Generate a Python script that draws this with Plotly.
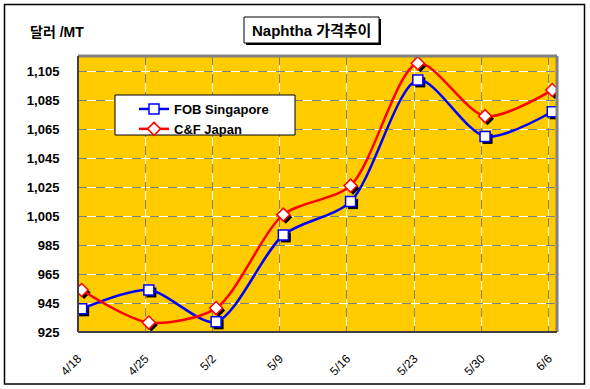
import plotly.graph_objects as go

dates = ["4/18", "4/25", "5/2", "5/9", "5/16", "5/23", "5/30", "6/6"]
fob_singapore = [941, 954, 932, 992, 1015, 1099, 1060, 1077]
cf_japan = [954, 931.5, 941.5, 1006, 1026, 1110.5, 1074, 1092]
y_ticks = [925, 945, 965, 985, 1005, 1025, 1045, 1065, 1085, 1105]

FONT = "Arial, 'Liberation Sans', 'Noto Sans CJK KR', sans-serif"
xi = list(range(len(dates)))
off = 0.054
tickpos = [i - off for i in xi]
XR = [-off, 7.07]
YR = [925, 1115.5]

pw, ph = 590 - 78 - 33, 389 - 56 - 57
def px(x): return (x - 78) / pw
def py(y): return (389 - 57 - y) / ph

# shadow shift (in pixels) converted to axis units
SH = 2.5
dx = SH * (XR[1] - XR[0]) / pw
dy = SH * (YR[1] - YR[0]) / ph

fig = go.Figure()
# main series on x3/y3 (drawn on top)
fig.add_trace(go.Scatter(
    x=xi, y=fob_singapore, name="FOB Singapore", mode="lines+markers",
    xaxis="x3", yaxis="y3",
    line=dict(color="#0000FF", width=2.5, shape="spline", smoothing=0.8),
    marker=dict(symbol="square", size=10, color="white", line=dict(color="#0000FF", width=1.5)),
))
fig.add_trace(go.Scatter(
    x=xi, y=cf_japan, name="C&F Japan", mode="lines+markers",
    xaxis="x3", yaxis="y3",
    line=dict(color="#FF0000", width=2.5, shape="spline", smoothing=0.8),
    marker=dict(symbol="diamond", size=10, color="white", line=dict(color="#FF0000", width=1.5)),
))
# marker shadows on shifted overlay axes x2/y2
fig.add_trace(go.Scatter(x=xi, y=fob_singapore, xaxis="x2", yaxis="y2", mode="markers",
                         marker=dict(symbol="square", size=10, color="black"),
                         showlegend=False, hoverinfo="skip"))
fig.add_trace(go.Scatter(x=xi, y=cf_japan, xaxis="x2", yaxis="y2", mode="markers",
                         marker=dict(symbol="diamond", size=10, color="black"),
                         showlegend=False, hoverinfo="skip"))
# invisible trace on base axes
fig.add_trace(go.Scatter(x=[XR[0]], y=[YR[0]], mode="markers", marker=dict(opacity=0),
                         showlegend=False, hoverinfo="skip"))

hidden = dict(showticklabels=False, showgrid=False, zeroline=False, automargin=False,
              showline=False, ticks="")

fig.update_layout(
    width=590, height=389,
    margin=dict(l=78, r=33, t=56, b=57, autoexpand=False),
    paper_bgcolor="white", plot_bgcolor="#FFCC00",
    font=dict(family=FONT, size=12, color="black"),
    showlegend=True,
    legend=dict(x=px(134), y=py(94), xanchor="left", yanchor="top",
                bgcolor="rgba(0,0,0,0)", borderwidth=0,
                font=dict(size=13, weight="bold"), tracegroupgap=0,
                itemwidth=30, traceorder="normal"),
    xaxis=dict(range=XR, tickmode="array", tickvals=tickpos, ticktext=dates,
               tickangle=-45, showgrid=True, gridcolor="white", gridwidth=1,
               showline=False, zeroline=False, ticks="outside", ticklen=14,
               tickcolor="rgba(0,0,0,0)", automargin=False,
               tickfont=dict(size=12, family=FONT)),
    yaxis=dict(range=YR, tickmode="array", tickvals=y_ticks,
               ticktext=[f"{v:,}" for v in y_ticks],
               showgrid=True, gridcolor="white", gridwidth=1,
               showline=False, zeroline=False, ticks="outside", ticklen=15,
               tickcolor="rgba(0,0,0,0)", automargin=False,
               tickfont=dict(size=13, family=FONT, weight="bold")),
    xaxis2=dict(range=[XR[0] - dx, XR[1] - dx], overlaying="x", **hidden),
    yaxis2=dict(range=[YR[0] + dy, YR[1] + dy], overlaying="y", **hidden),
    xaxis3=dict(range=XR, overlaying="x", tickmode="array", tickvals=tickpos,
                showticklabels=False, showgrid=True, gridcolor="#808080",
                griddash="dash", gridwidth=1, zeroline=False, automargin=False),
    yaxis3=dict(range=YR, overlaying="y", tickmode="array", tickvals=y_ticks,
                showticklabels=False, showgrid=True, gridcolor="#808080",
                griddash="dash", gridwidth=1, zeroline=False, automargin=False),
)

# plot area border (gray top/right, dark left/bottom)
fig.add_shape(type="line", xref="paper", yref="paper", x0=0, x1=1, y0=1, y1=1,
              line=dict(color="#808080", width=3))
fig.add_shape(type="line", xref="paper", yref="paper", x0=1, x1=1, y0=0, y1=1,
              line=dict(color="#808080", width=3))
fig.add_shape(type="line", xref="paper", yref="paper", x0=0, x1=0, y0=0, y1=1,
              line=dict(color="#404040", width=2))
fig.add_shape(type="line", xref="paper", yref="paper", x0=0, x1=1, y0=0, y1=0,
              line=dict(color="#404040", width=2))

# legend box
fig.add_shape(type="rect", xref="paper", yref="paper",
              x0=px(115), x1=px(295), y0=py(135), y1=py(95),
              fillcolor="white", line=dict(color="black", width=1))

# outer border
fig.add_shape(type="rect", xref="paper", yref="paper",
              x0=px(4.5), x1=px(584.5), y0=py(384), y1=py(4.5),
              line=dict(color="black", width=1.5), layer="below")

# title box with shadow
fig.add_shape(type="rect", xref="paper", yref="paper",
              x0=px(246), x1=px(381), y0=py(45), y1=py(19),
              fillcolor="black", line=dict(width=0))
fig.add_shape(type="rect", xref="paper", yref="paper",
              x0=px(244), x1=px(379), y0=py(43), y1=py(17),
              fillcolor="white", line=dict(color="black", width=1))
fig.add_annotation(xref="paper", yref="paper", x=px(311.5), y=py(30),
                   text="Naphtha 가격추이", showarrow=False,
                   font=dict(size=15, weight="bold", family=FONT),
                   xanchor="center", yanchor="middle")

# y-axis unit label
fig.add_annotation(xref="paper", yref="paper", x=px(28), y=py(32),
                   text="달러 /MT", showarrow=False,
                   font=dict(size=14, weight="bold", family=FONT),
                   xanchor="left", yanchor="middle")

fig.write_html("out.html", post_script="document.body.style.margin='0';",
               config={"displayModeBar": False})
